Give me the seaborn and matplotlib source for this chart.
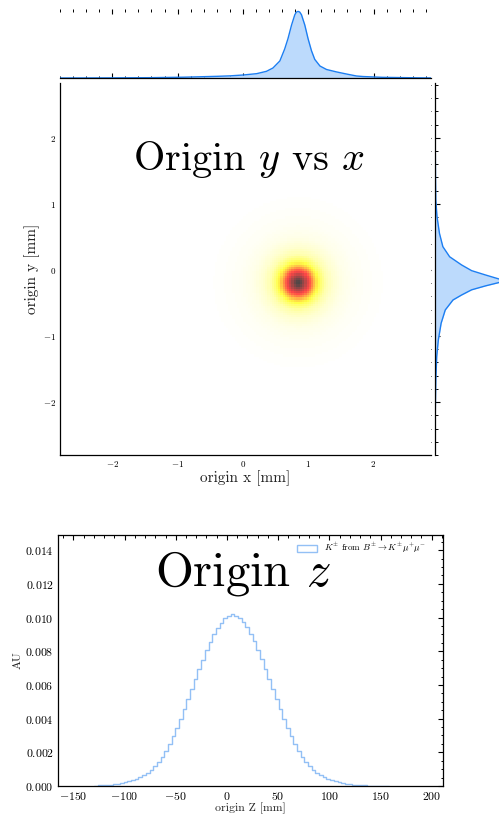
import numpy as np
import pandas as pd
import matplotlib
matplotlib.use("Agg")
import matplotlib.pyplot as plt
import seaborn as sns
from matplotlib.colors import ListedColormap
from matplotlib.patches import Patch
from matplotlib.ticker import MultipleLocator

# ---------------- data ----------------
# top marginal: distribution of origin x (relative height)
margx_pos = [-2.8, -2.0, -1.42, -0.91, -0.4, -0.2, 0.005, 0.21, 0.36, 0.46, 0.566, 0.64,
             0.69, 0.745, 0.795, 0.82, 0.846, 0.87, 0.897, 0.948, 0.998, 1.05, 1.10, 1.18,
             1.28, 1.43, 1.585, 1.74, 1.84, 2.14, 2.65, 2.88]
margx_val = [0.0, 0.002, 0.005, 0.012, 0.025, 0.032, 0.045, 0.065, 0.10, 0.15, 0.256, 0.436,
             0.59, 0.795, 0.95, 0.99, 1.0, 0.99, 0.95, 0.795, 0.59, 0.41, 0.28, 0.18,
             0.128, 0.092, 0.06, 0.03, 0.022, 0.01, 0.003, 0.001]

# right marginal: distribution of origin y (relative height)
margy_pos = [2.83, 2.3, 1.87, 1.36, 1.06, 0.81, 0.555, 0.353, 0.20, 0.076, -0.01, -0.076,
             -0.136, -0.16, -0.185, -0.24, -0.30, -0.378, -0.454, -0.605, -0.806, -1.06,
             -1.31, -1.67, -2.17, -2.8]
margy_val = [0.0, 0.002, 0.004, 0.008, 0.012, 0.03, 0.067, 0.118, 0.22, 0.40, 0.55, 0.76,
             0.96, 1.04, 0.98, 0.76, 0.55, 0.40, 0.27, 0.154, 0.092, 0.05, 0.026, 0.012,
             0.004, 0.001]

# 2D density: centre and radial level profile (mm -> relative level)
blob_center = (0.845, -0.19)
blob_radius = [0.0, 0.046, 0.107, 0.153, 0.198, 0.244, 0.29, 0.336, 0.427, 0.534, 0.687,
               0.916, 1.22, 1.53, 5.0]
blob_level = [1.0, 0.93, 0.78, 0.66, 0.55, 0.4, 0.28, 0.2, 0.11, 0.065, 0.032, 0.014,
              0.005, 0.0, 0.0]

# origin z histogram (bin width 3.6 mm), normalised
z_bin_start = -129.6
z_bin_width = 3.6
z_values = [0.00002, 0.00003, 0.00004, 0.00005, 0.00007, 0.00009, 0.00012, 0.00016,
            0.00021, 0.00027, 0.00034, 0.00042, 0.00051, 0.00063, 0.00078, 0.00096,
            0.00118, 0.00145, 0.00175, 0.00210, 0.00250, 0.00295, 0.00345, 0.00400,
            0.00455, 0.00515, 0.00575, 0.00635, 0.00695, 0.00750, 0.00805, 0.00855,
            0.00900, 0.00940, 0.00970, 0.00995, 0.01010, 0.01020, 0.01010, 0.00995,
            0.00975, 0.00945, 0.00905, 0.00860, 0.00810, 0.00755, 0.00695, 0.00635,
            0.00575, 0.00515, 0.00455, 0.00400, 0.00345, 0.00295, 0.00250, 0.00210,
            0.00175, 0.00145, 0.00118, 0.00096, 0.00078, 0.00063, 0.00051, 0.00042,
            0.00034, 0.00027, 0.00021, 0.00016, 0.00012, 0.00009, 0.00007, 0.00005,
            0.00004, 0.00003, 0.00002, 0.00002, 0.00001, 0.00001, 0.00001, 0.000005]

title_xy = r"Origin $y$ vs $x$"
title_z = r"Origin $z$"
legend_label = r"$K^{\pm}$ from $B^{\pm} \to K^{\pm}\mu^{+}\mu^{-}$"

# ---------------- style ----------------
sns.set_theme(style="white")
plt.rcParams.update({
    "font.family": ["cmr10", "DejaVu Serif"],
    "mathtext.fontset": "cm",
    "axes.formatter.use_mathtext": True,
    "axes.edgecolor": "black",
    "axes.linewidth": 0.9,
    "xtick.color": "black",
    "ytick.color": "black",
    "axes.labelcolor": "#222222",
    "text.color": "black",
    "xtick.direction": "in",
    "ytick.direction": "in",
    "xtick.major.size": 3.5,
    "ytick.major.size": 3.5,
    "xtick.minor.size": 1.8,
    "ytick.minor.size": 1.8,
    "xtick.major.width": 0.8,
    "ytick.major.width": 0.8,
    "xtick.minor.width": 0.7,
    "ytick.minor.width": 0.7,
    "xtick.major.pad": 3,
    "ytick.major.pad": 3,
})

W, H = 499, 814
fig = plt.figure(figsize=(W / 100, H / 100), dpi=100)


def px_axes(x0, y0, x1, y1):
    return fig.add_axes([x0 / W, 1 - y1 / H, (x1 - x0) / W, (y1 - y0) / H])


ax_main = px_axes(60, 83, 431, 455)
ax_top = px_axes(60, 9, 431, 78)
ax_right = px_axes(435, 83, 504, 455)
ax_z = px_axes(58, 535, 443, 786)

XLIM = (-2.8, 2.88)
YLIM = (-2.8, 2.83)

# ---------------- 2D density ----------------
hot = plt.get_cmap("hot_r")(np.linspace(0, 1, 256))
blend = hot.copy()
blend[:, :3] = hot[:, :3] * 0.72 + 0.28
blend[0, :3] = 1.0
cmap = ListedColormap(blend)

xedges = np.linspace(XLIM[0], XLIM[1], 171)
yedges = np.linspace(YLIM[0], YLIM[1], 171)
xc = 0.5 * (xedges[1:] + xedges[:-1])
yc = 0.5 * (yedges[1:] + yedges[:-1])
gx, gy = np.meshgrid(xc, yc)
rr = np.hypot(gx - blob_center[0], gy - blob_center[1])
ww = np.interp(rr, blob_radius, blob_level)
df_xy = pd.DataFrame({"x": gx.ravel(), "y": gy.ravel(), "w": ww.ravel()})

sns.histplot(data=df_xy, x="x", y="y", weights="w", bins=[xedges, yedges],
             cmap=cmap, thresh=None, ax=ax_main)
ax_main.set_xlim(*XLIM)
ax_main.set_ylim(*YLIM)
ax_main.text(0.51, 0.795, title_xy, transform=ax_main.transAxes, ha="center",
             va="center", fontsize=29)
ax_main.set_xlabel("origin x [mm]", fontsize=11, labelpad=1)
ax_main.set_ylabel("origin y [mm]", fontsize=11, labelpad=2)
for side in ("top", "right"):
    ax_main.spines[side].set_visible(False)
ax_main.xaxis.set_major_locator(MultipleLocator(1))
ax_main.yaxis.set_major_locator(MultipleLocator(1))
ax_main.xaxis.set_minor_locator(MultipleLocator(0.2))
ax_main.yaxis.set_minor_locator(MultipleLocator(0.2))
ax_main.tick_params(which="both", top=True, right=True, labelsize=6.5)

# ---------------- marginals ----------------
line_c = "#1c7ef2"
fill_c = "#bcdafc"

ax_top.fill_between(margx_pos, 0, margx_val, color=fill_c, lw=0)
ax_top.plot(margx_pos, margx_val, color=line_c, lw=1.0)
ax_top.set_xlim(*XLIM)
ax_top.set_ylim(0, 1.036)
for side in ("top", "left", "right"):
    ax_top.spines[side].set_visible(False)
ax_top.xaxis.set_major_locator(MultipleLocator(1))
ax_top.xaxis.set_minor_locator(MultipleLocator(0.2))
ax_top.tick_params(axis="x", which="both", top=True, bottom=True,
                   labelbottom=False, labeltop=False)
ax_top.tick_params(axis="y", which="both", left=False, right=False, labelleft=False)

ax_right.fill_betweenx(margy_pos, 0, margy_val, color=fill_c, lw=0)
ax_right.plot(margy_val, margy_pos, color=line_c, lw=1.0)
ax_right.set_ylim(*YLIM)
ax_right.set_xlim(0, 1.036)
for side in ("top", "bottom", "right"):
    ax_right.spines[side].set_visible(False)
ax_right.yaxis.set_major_locator(MultipleLocator(1))
ax_right.yaxis.set_minor_locator(MultipleLocator(0.2))
ax_right.tick_params(axis="y", which="both", left=True, right=True,
                     labelleft=False, labelright=False)
ax_right.tick_params(axis="x", which="both", bottom=False, top=False, labelbottom=False)

# ---------------- origin z histogram ----------------
z_edges = [z_bin_start + z_bin_width * i for i in range(len(z_values) + 1)]
z_centers = [0.5 * (a + b) for a, b in zip(z_edges[:-1], z_edges[1:])]
df_z = pd.DataFrame({"z": z_centers, "w": z_values})
hist_c = "#93c0f5"
sns.histplot(data=df_z, x="z", weights="w", bins=z_edges, element="step", fill=False,
             color=hist_c, lw=1.0, ax=ax_z)
ax_z.set_xlim(-165, 211)
ax_z.set_ylim(0, 0.0149)
ax_z.xaxis.set_major_locator(MultipleLocator(50))
ax_z.xaxis.set_minor_locator(MultipleLocator(10))
ax_z.yaxis.set_major_locator(MultipleLocator(0.002))
ax_z.yaxis.set_minor_locator(MultipleLocator(0.0005))
ax_z.tick_params(which="both", top=True, right=True, labelsize=8.5)
ax_z.set_xlabel("origin Z [mm]", fontsize=8.5, labelpad=0)
ax_z.set_ylabel("AU", fontsize=8.5, labelpad=2)
ax_z.text(0.48, 0.845, title_z, transform=ax_z.transAxes, ha="center", va="center",
          fontsize=35)
handle = Patch(facecolor="none", edgecolor=hist_c, lw=1.0, label=legend_label)
ax_z.legend(handles=[handle], loc="upper right", bbox_to_anchor=(0.965, 0.99),
            borderaxespad=0, frameon=False, fontsize=6.5,
            handlelength=2.2, handleheight=0.9)

fig.savefig("out.png", dpi=100)
